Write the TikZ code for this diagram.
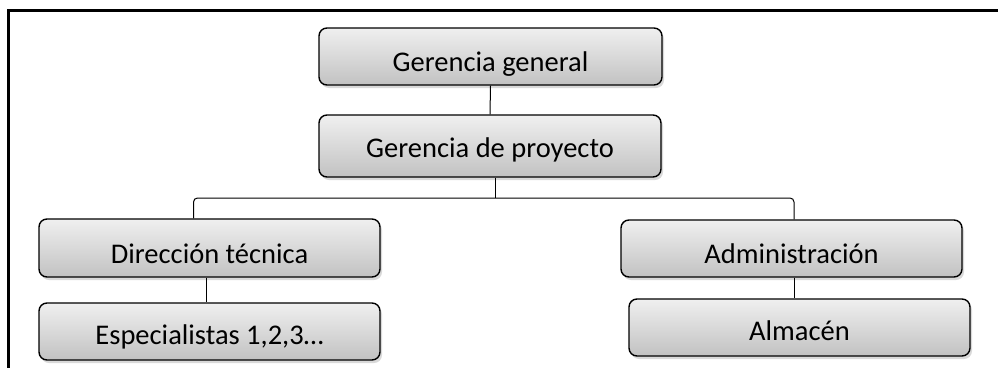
\documentclass[tikz,border=0pt]{standalone}
\usepackage{fontspec}
\setmainfont{Carlito}
\usetikzlibrary{shadows}
\tikzset{
  orgbox/.style={draw=black, line width=1.4pt, rounded corners=8pt,
    top color=black!6, bottom color=black!24,
    drop shadow={opacity=0.3, shadow xshift=2pt, shadow yshift=-3pt},
    minimum width=341pt, minimum height=57pt, inner sep=0pt,
    text height=29pt, text depth=0pt, font=\fontsize{28.5}{32}\selectfont},
  link/.style={line width=1pt}
}
\begin{document}
\begin{tikzpicture}[x=1pt,y=-1pt]
\useasboundingbox (0,0) rectangle (998,367);
% frame
\draw[line width=3.6pt] (998,10.5) -- (8.5,10.5) -- (8.5,370);
% boxes
\node[orgbox, minimum width=343pt] (gg) at (490.5,56.5) {Gerencia general};
\node[orgbox, minimum width=342pt, minimum height=62pt, text height=23pt] (gp) at (490,146) {Gerencia de proyecto};
\node[orgbox, minimum height=58pt, text height=31pt] (dt) at (209.5,248) {Dirección técnica};
\node[orgbox, text height=25pt] (esp) at (209.5,331.5) {Especialistas 1,2,3…};
\node[orgbox, text height=30pt] (adm) at (791.5,248.5) {Administración};
\node[orgbox, text height=26pt] (alm) at (799.5,327.5) {Almacén};
% connectors
\coordinate (fork) at (495,198);
\coordinate (admdown) at ([xshift=2.5pt]adm.south);
\draw[link] (gg.south) -- (gp.north);
\draw[link] ([xshift=5pt]gp.south) -- (fork);
\draw[link, rounded corners=4pt] ([xshift=-16pt]dt.north) |- (fork) -| ([xshift=2.5pt]adm.north);
\draw[link] ([xshift=-3pt]dt.south) -- ([xshift=-3pt]esp.north);
\draw[link] (admdown) -- (admdown |- alm.north);
\end{tikzpicture}
\end{document}
